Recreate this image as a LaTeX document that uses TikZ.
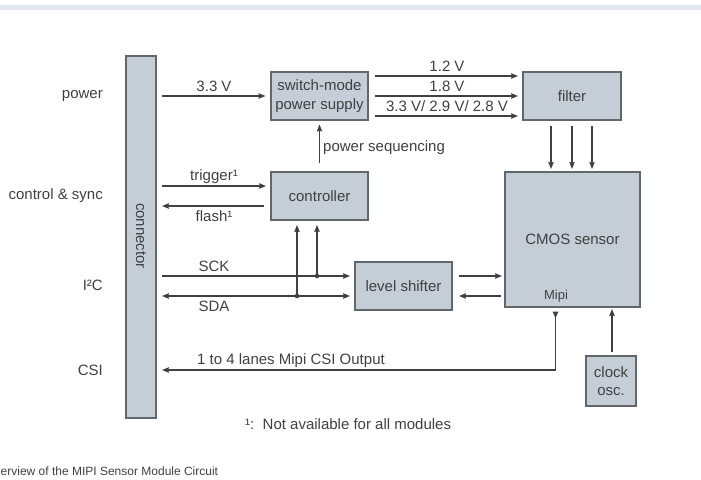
\documentclass[tikz,border=0pt]{standalone}
\usepackage{fontspec}
\setmainfont{Liberation Sans}
\usetikzlibrary{arrows.meta,calc}
\definecolor{boxfill}{HTML}{C5CED7}
\definecolor{boxline}{HTML}{62676B}
\definecolor{ink}{HTML}{404040}
\definecolor{band}{HTML}{E2E8F2}
\tikzset{
  x=1pt,y=-1pt,
  blk/.style={draw=boxline,fill=boxfill,line width=1.1pt,align=center,inner sep=0pt,text=ink,font=\fontsize{15}{18.5}\selectfont},
  arr/.style={draw=ink,line width=1.2pt,-{Stealth[length=7pt,width=5.5pt,inset=1pt]}},
  ln/.style={draw=ink,line width=1.2pt},
  lbl/.style={text=ink,inner sep=0pt,font=\fontsize{15}{17}\selectfont},
  dot/.style={circle,fill=ink,inner sep=0pt,minimum size=4.6pt}
}
\newcommand{\blkbox}[6]{\node[blk,minimum width=#4-#3,minimum height=#6-#5] (#1) at ({(#3+#4)/2},{(#5+#6)/2}) {#2};}
\begin{document}
\begin{tikzpicture}
\useasboundingbox (0,0) rectangle (701,479);
\fill[band] (0,5) rectangle (701,10);
\node[blk,minimum width=30pt,minimum height=362pt] (conn) at (141,237) {};
\node[lbl,rotate=-90] (connlabel) at (141,236) {connector};
\blkbox{sw}{switch-mode\\power supply}{271}{368}{72}{120}
\blkbox{ctrl}{controller}{271}{368}{172}{220}
\blkbox{filt}{filter}{523}{621}{72}{120}
\blkbox{cmos}{CMOS sensor}{505}{640}{172}{307}
\blkbox{lvl}{level shifter}{355}{452}{262}{310}
\blkbox{clk}{clock\\osc.}{586}{636}{356}{406}
\node[lbl,anchor=east] (lpower) at (103,96) {power};
\node[lbl,anchor=east] (lctrl) at (103,196) {control \& sync};
\node[lbl,anchor=east] (li2c) at (103,285) {I²C};
\node[lbl,anchor=east] (lcsi) at (103,370) {CSI};
\node[lbl,font=\fontsize{13}{15}\selectfont] (mipi) at (556,296) {Mipi};
% power
\coordinate (a1) at (162,96);
\draw[arr,shorten >=5pt] (a1) -- (sw.west);
\node[lbl] (t33) at (214,86) {3.3 V};
\coordinate (s12) at (375,76); \coordinate (f12) at (518,76);
\coordinate (s18) at (375,96); \coordinate (f18) at (518,96);
\coordinate (s33) at (375,116); \coordinate (f33) at (518,116);
\draw[arr] (s12) -- (f12);
\draw[arr] (s18) -- (f18);
\draw[arr] (s33) -- (f33);
\node[lbl] (t12) at (447,66.5) {1.2 V};
\node[lbl] (t18) at (447,86.5) {1.8 V};
\node[lbl] (t3x) at (447,106.5) {3.3 V/ 2.9 V/ 2.8 V};
% power sequencing
\draw[arr,shorten <=4pt,shorten >=4pt] (ctrl.north) ++(0,-4) -- (sw.south);
\node[lbl,anchor=west] (tps) at (323,147.5) {power sequencing};
% trigger / flash
\coordinate (trgA) at (162,186); \coordinate (trgB) at (266,186);
\coordinate (flA) at (264,206); \coordinate (flB) at (162,206);
\draw[arr] (trgA) -- (trgB);
\draw[arr] (flA) -- (flB);
\node[lbl] (ttrig) at (214,176.5) {trigger¹};
\node[lbl] (tflash) at (214,216) {flash¹};
% I2C
\coordinate (sckA) at (162,276); \coordinate (sckB) at (350,276);
\coordinate (sdaA) at (162,296); \coordinate (sdaB) at (350,296);
\draw[arr] (sckA) -- (sckB);
\draw[arr,{Stealth[length=7pt,width=5.5pt,inset=1pt]}-{Stealth[length=7pt,width=5.5pt,inset=1pt]}] (sdaA) -- (sdaB);
\node[lbl] (tsck) at (214,266) {SCK};
\node[lbl] (tsda) at (214,306) {SDA};
\node[dot] (d1) at (317,276) {};
\node[dot] (d2) at (297,296) {};
\coordinate (u1) at (317,225); \coordinate (u2) at (297,225);
\draw[arr] (d1) -- (u1);
\draw[arr] (d2) -- (u2);
% level shifter <-> cmos
\coordinate (lsA) at (459,276); \coordinate (lsB) at (502,276);
\coordinate (lsC) at (501,296); \coordinate (lsD) at (459,296);
\draw[arr] (lsA) -- (lsB);
\draw[arr] (lsC) -- (lsD);
% filter -> cmos
\foreach \n/\x in {p/551,q/572,r/592}{
  \coordinate (\n a) at (\x,126); \coordinate (\n b) at (\x,169);
  \draw[arr] (\n a) -- (\n b);
}
% CSI
\coordinate (csiTop) at (555.5,312); \coordinate (csiCorner) at (555.5,370); \coordinate (csiEnd) at (162,370);
\draw[arr] (csiCorner) -- (csiEnd);
\draw[ln,line join=miter] (csiCorner) -- (csiTop);
\fill[ink] (552.5,311.5) -- (558.5,311.5) -- (555.5,318) -- cycle;
\node[lbl] (tcsi) at (291,360.5) {1 to 4 lanes Mipi CSI Output};
% clock
\coordinate (clkA) at (612,352); \coordinate (clkB) at (612,309);
\draw[arr] (clkA) -- (clkB);
% notes
\node[lbl,anchor=west] (note) at (245,424.5) {¹:\ \ Not available for all modules};
\node[text=ink,inner sep=0pt,anchor=west,font=\fontsize{12}{14}\selectfont] (cap) at (0.5,471) {erview of the MIPI Sensor Module Circuit};
\end{tikzpicture}
\end{document}
